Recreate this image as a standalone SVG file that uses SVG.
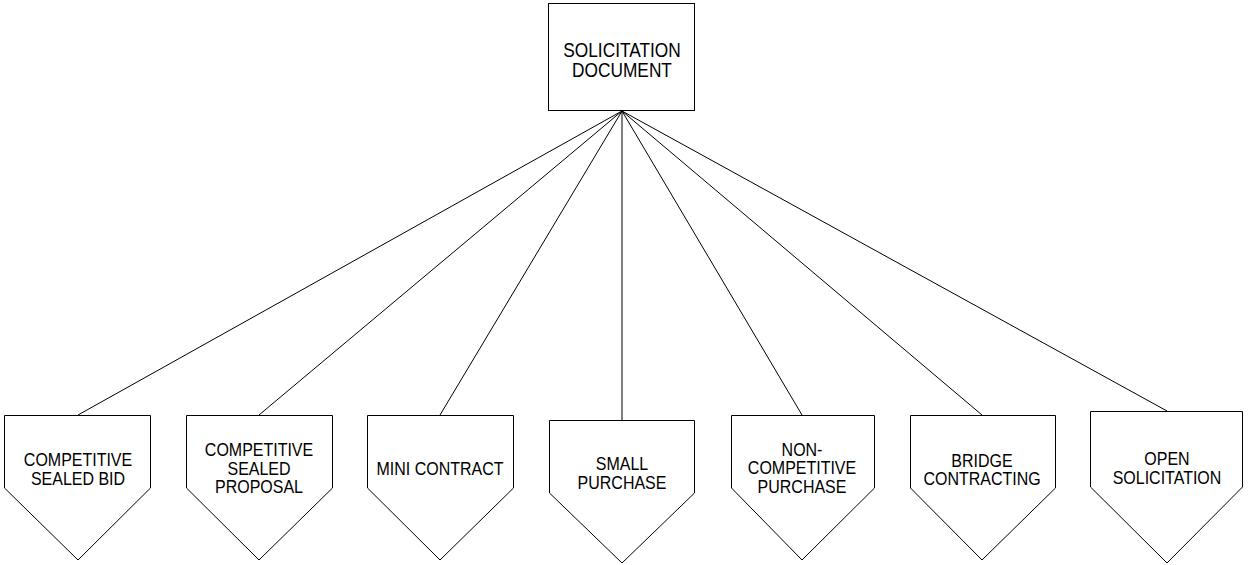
<svg xmlns="http://www.w3.org/2000/svg" width="1248" height="565" viewBox="0 0 1248 565">
<style>
.n{fill:#fff;stroke:#000;stroke-width:1}
.c{stroke:#000;stroke-width:1;fill:none}
.t{font-family:"Liberation Sans",Arial,sans-serif;font-size:16px;fill:#000;text-anchor:middle}
.tt{font-size:17.3px}
</style>
<rect width="1248" height="565" fill="#fff"/>
<g id="connectors">
<line class="c" x1="622" y1="111" x2="78" y2="415"/>
<line class="c" x1="622" y1="111" x2="259" y2="415"/>
<line class="c" x1="622" y1="111" x2="440" y2="415"/>
<line class="c" x1="622" y1="111" x2="622" y2="420"/>
<line class="c" x1="622" y1="111" x2="802" y2="415"/>
<line class="c" x1="622" y1="111" x2="982" y2="415"/>
<line class="c" x1="622" y1="111" x2="1167" y2="411"/>
</g>
<g id="solicitation-document">
<rect class="n" x="548.5" y="3.5" width="146" height="107"/>
<text class="t tt" transform="translate(622,56.5) scale(1,1.15)"><tspan x="0" y="0">SOLICITATION</tspan><tspan x="0" y="18">DOCUMENT</tspan></text>
</g>
<g id="competitive-sealed-bid">
<polygon class="n" points="4.5,415.5 150.5,415.5 150.5,488 78,560 4.5,488"/>
<text class="t" transform="translate(78,466) scale(1,1.1)"><tspan x="0" y="0">COMPETITIVE</tspan><tspan x="0" y="17.3">SEALED BID</tspan></text>
</g>
<g id="competitive-sealed-proposal">
<polygon class="n" points="186.5,415.5 332.5,415.5 332.5,488 259,560 186.5,488"/>
<text class="t" transform="translate(259,456) scale(1,1.1)"><tspan x="0" y="0">COMPETITIVE</tspan><tspan x="0" y="16.9">SEALED</tspan><tspan x="0" y="33.8">PROPOSAL</tspan></text>
</g>
<g id="mini-contract">
<polygon class="n" points="367.5,415.5 513.5,415.5 513.5,488 440,560 367.5,488"/>
<text class="t" transform="translate(440,475) scale(1,1.1)"><tspan x="0" y="0">MINI CONTRACT</tspan></text>
</g>
<g id="small-purchase">
<polygon class="n" points="549.5,420.5 694.5,420.5 694.5,493 622,563 549.5,493"/>
<text class="t" transform="translate(622,470) scale(1,1.1)"><tspan x="0" y="0">SMALL</tspan><tspan x="0" y="17.3">PURCHASE</tspan></text>
</g>
<g id="non-competitive-purchase">
<polygon class="n" points="731.5,415.5 874.5,415.5 874.5,488 802,560 731.5,488"/>
<text class="t" transform="translate(802,455.5) scale(1,1.1)"><tspan x="0" y="0">NON-</tspan><tspan x="0" y="16.9">COMPETITIVE</tspan><tspan x="0" y="33.8">PURCHASE</tspan></text>
</g>
<g id="bridge-contracting">
<polygon class="n" points="910.5,415.5 1055.5,415.5 1055.5,488 982,560 910.5,488"/>
<text class="t" transform="translate(982,466.5) scale(1,1.1)"><tspan x="0" y="0">BRIDGE</tspan><tspan x="0" y="17">CONTRACTING</tspan></text>
</g>
<g id="open-solicitation">
<polygon class="n" points="1090.5,411.5 1242.5,411.5 1242.5,487 1167,563 1090.5,487"/>
<text class="t" transform="translate(1167,465) scale(1,1.1)"><tspan x="0" y="0">OPEN</tspan><tspan x="0" y="17">SOLICITATION</tspan></text>
</g>
</svg>
